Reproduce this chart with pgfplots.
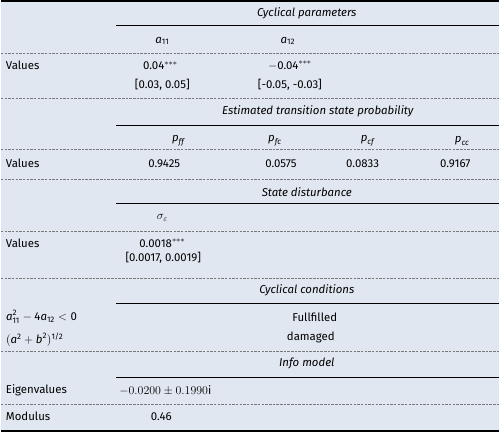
\documentclass[border=0pt]{standalone}
\usepackage{amsmath}
\usepackage{fontspec}
\setmainfont{Fira Sans}
\usepackage{pgfplots}
\pgfplotsset{compat=1.18}
\definecolor{tblbg}{RGB}{225,231,241}
\definecolor{rulegray}{RGB}{120,120,120}
\newcommand{\va}{\textit{a}}
\newcommand{\tr}[1]{\textrm{#1}}

\begin{document}
\fontsize{11.5}{13}\selectfont
\begin{tikzpicture}
  \begin{axis}[
    width=500bp, height=434bp, scale only axis,
    xmin=0, xmax=500, ymin=0, ymax=434,
    y dir=reverse, hide axis, clip=false,
  ]
    % background
    \fill[tblbg] (axis cs:0,0) rectangle (axis cs:500,434);

    % rules
    \draw[line width=1.8pt] (axis cs:0,0.9) -- (axis cs:500,0.9);
    \draw[line width=1.1pt] (axis cs:116,26) -- (axis cs:500,26);
    \draw[line width=1.1pt] (axis cs:116,126) -- (axis cs:500,126);
    \draw[line width=1.1pt] (axis cs:116,204) -- (axis cs:500,204);
    \draw[line width=1.1pt] (axis cs:116,305) -- (axis cs:500,305);
    \draw[line width=1.1pt] (axis cs:116,379) -- (axis cs:500,379);
    \draw[line width=1.4pt] (axis cs:0,432.5) -- (axis cs:500,432.5);
    \tikzset{dsh/.style={rulegray, line width=0.5pt, dash pattern=on 2.5pt off 1.2pt}}
    \draw[dsh] (axis cs:0,53) -- (axis cs:500,53);
    \draw[dsh] (axis cs:0,99) -- (axis cs:500,99);
    \draw[dsh] (axis cs:0,150) -- (axis cs:500,150);
    \draw[dsh] (axis cs:0,180) -- (axis cs:500,180);
    \draw[dsh] (axis cs:0,232) -- (axis cs:500,232);
    \draw[dsh] (axis cs:0,279) -- (axis cs:500,279);
    \draw[dsh] (axis cs:0,353) -- (axis cs:500,353);
    \draw[dsh] (axis cs:0,406) -- (axis cs:500,406);

    % section headings
    \node at (axis cs:307,13) {\itshape Cyclical parameters};
    \node at (axis cs:318,112) {\itshape Estimated transition state probability};
    \node at (axis cs:307,193) {\itshape State disturbance};
    \node at (axis cs:307,291) {\itshape Cyclical conditions};
    \node at (axis cs:307,365) {\itshape Info model};

    % cyclical parameters
    \node at (axis cs:162,41) {$\va_{\tr{11}}$};
    \node at (axis cs:288,41) {$\va_{\tr{12}}$};
    \node[anchor=west] at (axis cs:1,66) {Values};
    \node at (axis cs:160,66) {0.04$^{***}$};
    \node at (axis cs:290,66) {$-$0.04$^{***}$};
    \node at (axis cs:162,85) {[0.03, 0.05]};
    \node at (axis cs:290,85) {[-0.05, -0.03]};

    % transition probabilities
    \node at (axis cs:178,141) {$\textit{p}_{\textit{ff}}$};
    \node at (axis cs:275,141) {$\textit{p}_{\textit{fc}}$};
    \node at (axis cs:368,141) {$\textit{p}_{\textit{cf}}$};
    \node at (axis cs:463,141) {$\textit{p}_{\textit{cc}}$};
    \node[anchor=west] at (axis cs:1,164) {Values};
    \node at (axis cs:164,164) {0.9425};
    \node at (axis cs:281,164) {0.0575};
    \node at (axis cs:363,164) {0.0833};
    \node at (axis cs:456,164) {0.9167};

    % state disturbance
    \node at (axis cs:162,219) {$\sigma_\varepsilon$};
    \node[anchor=west] at (axis cs:1,244) {Values};
    \node at (axis cs:162,244) {0.0018$^{***}$};
    \node at (axis cs:163,259) {[0.0017, 0.0019]};

    % cyclical conditions
    \node[anchor=west, inner sep=0pt] at (axis cs:5,318) {$\va_{\tr{11}}^{\tr{2}}-\tr{4}\va_{\tr{12}}<\tr{0}$};
    \node[anchor=west, inner sep=0pt] at (axis cs:5,341) {$(\va^{\tr{2}}+\textit{b}^{\tr{2}})^{\tr{1/2}}$};
    \node at (axis cs:315,318) {Fullfilled};
    \node at (axis cs:311,339) {damaged};

    % info model
    \node[anchor=west] at (axis cs:1,392) {Eigenvalues};
    \node at (axis cs:165,392) {$-0.0200\pm0.1990\mathrm{i}$};
    \node[anchor=west] at (axis cs:1,418) {Modulus};
    \node at (axis cs:161,418) {0.46};
  \end{axis}
\end{tikzpicture}
\end{document}
